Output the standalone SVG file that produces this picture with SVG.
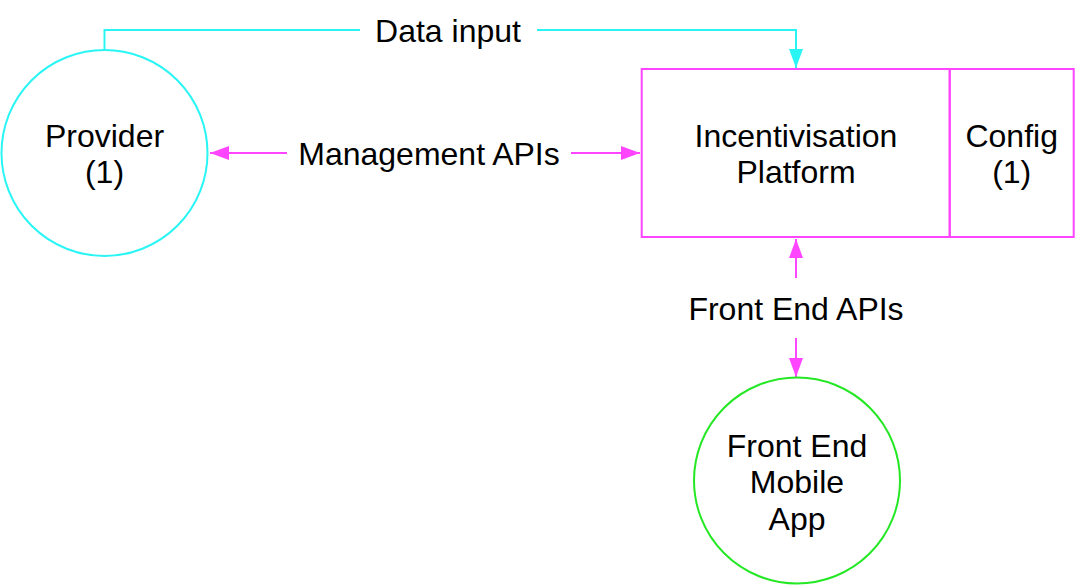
<svg xmlns="http://www.w3.org/2000/svg" width="1076" height="588" viewBox="0 0 1076 588">
<style>
text{font-family:"Liberation Sans",Arial,Helvetica,sans-serif;font-size:32px;fill:#000;text-anchor:middle}
.cy{stroke:#2AF5F5;stroke-width:2;fill:none}
.mg{stroke:#FF45FF;stroke-width:2;fill:none}
.gr{stroke:#25E825;stroke-width:2;fill:none}
</style>
<defs>
<marker id="ac" markerUnits="userSpaceOnUse" markerWidth="20" markerHeight="16" refX="19" refY="7" orient="auto"><path d="M0,0 L19,7 L0,14 Z" fill="#2AF5F5"/></marker>
<marker id="am" markerUnits="userSpaceOnUse" markerWidth="20" markerHeight="16" refX="19" refY="7" orient="auto"><path d="M0,0 L19,7 L0,14 Z" fill="#FF45FF"/></marker>
</defs>
<rect width="1076" height="588" fill="#fff"/>
<g id="connectors">
<path class="cy" d="M104.5,50 V30 H360"/>
<path class="cy" d="M537,30 H796 V68" marker-end="url(#ac)"/>
<text x="448" y="41.5">Data input</text>
<path class="mg" d="M287,153 H210" marker-end="url(#am)"/>
<path class="mg" d="M571,153 H640" marker-end="url(#am)"/>
<text x="429" y="164.5">Management APIs</text>
<path class="mg" d="M796,278 V239" marker-end="url(#am)"/>
<path class="mg" d="M796,338 V377" marker-end="url(#am)"/>
<text x="796" y="319.5">Front End APIs</text>
</g>
<g id="provider">
<circle class="cy" cx="104.5" cy="153" r="103"/>
<text x="104.5" y="146.5">Provider</text>
<text x="104.5" y="183">(1)</text>
</g>
<g id="platform">
<rect class="mg" x="641.7" y="69" width="308" height="168"/>
<text x="796" y="146.5">Incentivisation</text>
<text x="796" y="183">Platform</text>
</g>
<g id="config">
<rect class="mg" x="949.7" y="69" width="124" height="168"/>
<text x="1011.7" y="146.5">Config</text>
<text x="1011.7" y="183">(1)</text>
</g>
<g id="mobile">
<circle class="gr" cx="797" cy="480.5" r="103"/>
<text x="797" y="456.5">Front End</text>
<text x="797" y="493.3">Mobile</text>
<text x="797" y="530">App</text>
</g>
</svg>
